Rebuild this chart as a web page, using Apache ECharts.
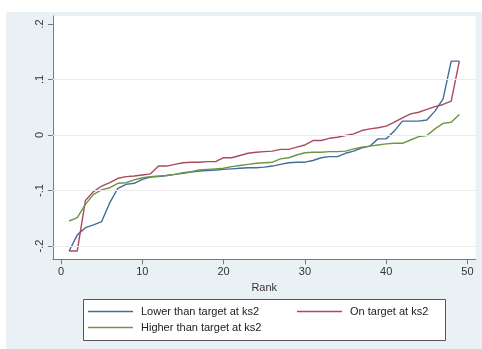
<!DOCTYPE html>
<html>
<head>
<meta charset="utf-8">
<script src="https://cdn.jsdelivr.net/npm/echarts@6/dist/echarts.min.js"></script>
<style>
  html, body { margin: 0; padding: 0; background: #ffffff; }
  #chart { width: 482px; height: 349px; }
</style>
</head>
<body>
<div id="chart"></div>
<script>
// Rank positions 1..49
const ranks = Array.from({ length: 49 }, (_, i) => i + 1);

// Residual by rank, one list per ks2 target group
const lowerThanTarget = [
  -0.209, -0.180, -0.167, -0.162, -0.156, -0.122, -0.096, -0.089, -0.087, -0.080,
  -0.076, -0.075, -0.073, -0.071, -0.069, -0.067, -0.065, -0.064, -0.063, -0.062,
  -0.061, -0.060, -0.059, -0.059, -0.058, -0.056, -0.053, -0.050, -0.049, -0.049,
  -0.046, -0.041, -0.039, -0.039, -0.033, -0.029, -0.023, -0.020, -0.007, -0.007,
   0.007,  0.025,  0.025,  0.025,  0.027,  0.043,  0.065,  0.133,  0.133
];
const onTarget = [
  -0.209, -0.209, -0.118, -0.102, -0.092, -0.086, -0.078, -0.075, -0.074, -0.072,
  -0.070, -0.056, -0.056, -0.053, -0.050, -0.049, -0.049, -0.048, -0.048, -0.041,
  -0.041, -0.037, -0.033, -0.031, -0.030, -0.029, -0.026, -0.026, -0.022, -0.018,
  -0.010, -0.010, -0.006, -0.004, -0.001,  0.002,  0.008,  0.011,  0.013,  0.016,
   0.023,  0.031,  0.038,  0.041,  0.046,  0.051,  0.055,  0.061,  0.133
];
const higherThanTarget = [
  -0.155, -0.149, -0.125, -0.107, -0.099, -0.095, -0.087, -0.086, -0.081, -0.077,
  -0.075, -0.074, -0.073, -0.071, -0.068, -0.066, -0.063, -0.062, -0.061, -0.060,
  -0.057, -0.055, -0.053, -0.051, -0.050, -0.049, -0.043, -0.041, -0.036, -0.032,
  -0.031, -0.031, -0.030, -0.030, -0.029, -0.025, -0.022, -0.020, -0.018, -0.016,
  -0.015, -0.015, -0.009, -0.003, -0.001,  0.011,  0.021,  0.023,  0.037
];

const seriesNames = ['Lower than target at ks2', 'On target at ks2', 'Higher than target at ks2'];
const seriesColors = ['#436c96', '#ab4a5b', '#6e9446'];

// Axis ticks and labels
const xTicks = [0, 10, 20, 30, 40, 50];
const yTicks = [-0.2, -0.1, 0, 0.1, 0.2];
const yTickLabels = { '-0.2': '-.2', '-0.1': '-.1', '0': '0', '0.1': '.1', '0.2': '.2' };
const yGrid = [-0.2, -0.1, 0, 0.1];

const FONT = '"Liberation Sans", Arial, sans-serif';
const pair = (vals) => ranks.map((r, i) => [r, vals[i]]);

const chart = echarts.init(document.getElementById('chart'), null, { renderer: 'canvas' });

const lineSeries = [lowerThanTarget, onTarget, higherThanTarget].map((vals, i) => ({
  name: seriesNames[i],
  type: 'line',
  data: pair(vals),
  color: seriesColors[i],
  symbol: 'none',
  showSymbol: false,
  animation: false,
  z: 3,
  lineStyle: { color: seriesColors[i], width: 1.4 },
  itemStyle: { color: seriesColors[i] }
}));

// Legend keys are plain line samples: a thin bar beside each label
const legendBase = {
  orient: 'horizontal',
  padding: 0,
  icon: 'rect',
  itemWidth: 45,
  itemHeight: 1.4,
  selectedMode: false,
  textStyle: { fontFamily: FONT, fontSize: 11, color: '#222', padding: [0, 0, 0, 3] }
};
const legendItem = (i) => ({
  name: seriesNames[i],
  itemStyle: { color: seriesColors[i], borderWidth: 0 }
});

chart.setOption({
  backgroundColor: '#ffffff',
  animation: false,
  graphic: [
    { type: 'rect', z: -10, silent: true,
      shape: { x: 6, y: 12, width: 476, height: 337 },
      style: { fill: '#eaf1f4' } },
    { type: 'rect', z: -5, silent: true,
      shape: { x: 83.5, y: 299.5, width: 362, height: 41 },
      style: { fill: '#ffffff', stroke: '#555', lineWidth: 1 } }
  ],
  legend: [
    Object.assign({}, legendBase, { data: [legendItem(0)], left: 88, top: 306 }),
    Object.assign({}, legendBase, { data: [legendItem(1)], left: 297, top: 306 }),
    Object.assign({}, legendBase, { data: [legendItem(2)], left: 88, top: 322 })
  ],
  grid: {
    show: true,
    left: 52.9,
    right: 6.4,
    top: 16,
    bottom: 89.7,
    backgroundColor: '#ffffff',
    borderWidth: 0,
    containLabel: false
  },
  xAxis: {
    type: 'value',
    min: -1,
    max: 51,
    name: 'Rank',
    nameLocation: 'middle',
    nameGap: 21,
    nameTextStyle: { fontFamily: FONT, fontSize: 11, color: '#333' },
    axisLine: { show: true, onZero: false, lineStyle: { color: '#7a7a7a', width: 1 } },
    axisTick: { show: true, length: 5, customValues: xTicks, lineStyle: { color: '#7a7a7a' } },
    axisLabel: { customValues: xTicks, margin: 7, fontFamily: FONT, fontSize: 11, color: '#333' },
    splitLine: { show: false }
  },
  yAxis: {
    type: 'value',
    min: -0.224,
    max: 0.2144,
    axisLine: { show: true, onZero: false, lineStyle: { color: '#7a7a7a', width: 1 } },
    axisTick: { show: true, length: 5, customValues: yTicks, lineStyle: { color: '#7a7a7a' } },
    axisLabel: {
      customValues: yTicks,
      rotate: 90,
      margin: 7,
      fontFamily: FONT,
      fontSize: 11,
      color: '#333',
      formatter: (v) => yTickLabels[String(Math.round(v * 10) / 10)] ?? String(v)
    },
    splitLine: { show: false }
  },
  series: [
    {
      name: 'gridlines',
      type: 'line',
      data: [],
      silent: true,
      z: 1,
      markLine: {
        silent: true,
        symbol: ['none', 'none'],
        label: { show: false },
        animation: false,
        lineStyle: { color: '#ebebeb', type: 'solid', width: 1 },
        data: yGrid.map((v) => ({ yAxis: v }))
      }
    }
  ].concat(lineSeries)
});
</script>
</body>
</html>
